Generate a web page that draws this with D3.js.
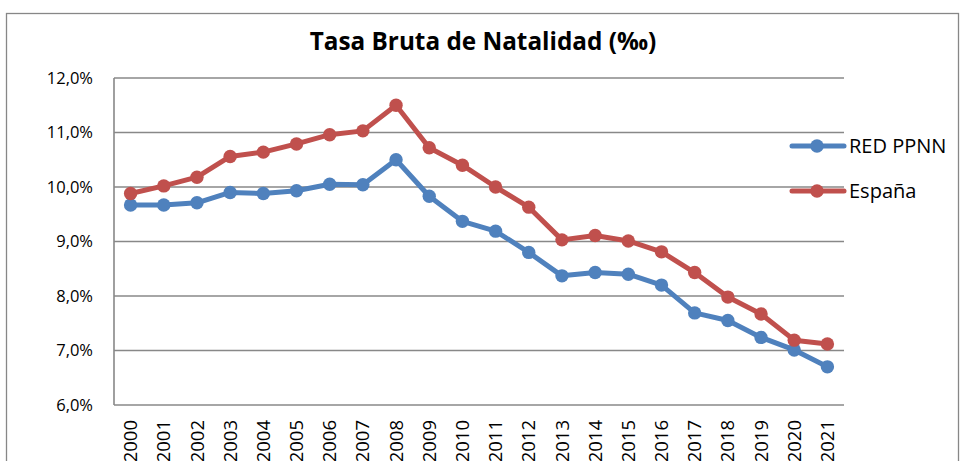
<!DOCTYPE html>
<html>
<head>
<meta charset="utf-8">
<title>Tasa Bruta de Natalidad</title>
<style>
  body { margin: 0; background: #fff; }
  svg { display: block; }
  text { font-family: "Open Sans", "Noto Sans", sans-serif; fill: #000; }
</style>
</head>
<body>
<div id="chart"></div>
<script src="https://cdn.jsdelivr.net/npm/d3@7"></script>
<script>
var years = ['2000','2001','2002','2003','2004','2005','2006','2007','2008','2009','2010',
             '2011','2012','2013','2014','2015','2016','2017','2018','2019','2020','2021'];
var redPPNN = [9.67, 9.67, 9.71, 9.90, 9.88, 9.93, 10.05, 10.04, 10.50, 9.83, 9.37,
               9.19, 8.80, 8.37, 8.43, 8.40, 8.20, 7.69, 7.55, 7.24, 7.01, 6.70];
var espana = [9.88, 10.02, 10.18, 10.56, 10.64, 10.79, 10.96, 11.03, 11.50, 10.72, 10.40,
              10.00, 9.63, 9.03, 9.11, 9.01, 8.81, 8.43, 7.98, 7.67, 7.19, 7.12];
var yTicks = [6, 7, 8, 9, 10, 11, 12];
var seriesNames = ['RED PPNN', 'España'];
var colors = ['#4F81BD', '#C0504D'];

var W = 960, H = 461;
var plot = {left: 114, top: 78, right: 844, bottom: 405};

var svg = d3.select('#chart').append('svg')
    .attr('width', W)
    .attr('height', H);

// outer chart border
svg.append('rect')
    .attr('x', 6.5).attr('y', 13.5)
    .attr('width', 952).attr('height', 470)
    .attr('fill', 'none')
    .attr('stroke', '#878787')
    .attr('stroke-width', 1.3);

var x = d3.scaleBand()
    .domain(years)
    .range([plot.left, plot.right]);

var y = d3.scaleLinear()
    .domain([6, 12])
    .range([plot.bottom, plot.top]);

// title
svg.append('text')
    .attr('x', 483).attr('y', 50)
    .attr('text-anchor', 'middle')
    .style('font-size', '24.3px')
    .style('font-weight', 'bold')
    .text('Tasa Bruta de Natalidad (‰)');

// gridlines
svg.append('g').selectAll('line')
  .data(yTicks)
  .join('line')
    .attr('x1', plot.left).attr('x2', plot.right)
    .attr('y1', d => y(d)).attr('y2', d => y(d))
    .attr('stroke', '#888')
    .attr('stroke-width', 1.6);

// left axis line
svg.append('line')
    .attr('x1', plot.left).attr('x2', plot.left)
    .attr('y1', plot.top).attr('y2', plot.bottom)
    .attr('stroke', '#888')
    .attr('stroke-width', 1.6);

// y labels
svg.append('g').selectAll('text')
  .data(yTicks)
  .join('text')
    .attr('x', 93)
    .attr('y', d => y(d))
    .attr('dy', '0.35em')
    .attr('text-anchor', 'end')
    .style('font-size', '16.5px')
    .text(d => d3.format('.1f')(d).replace('.', ',') + '%');

// x labels, rotated
svg.append('g').selectAll('text')
  .data(years)
  .join('text')
    .attr('transform', d => 'translate(' + (x(d) + x.bandwidth() / 2 + 6.6) + ',' + 420 + ') rotate(-90)')
    .attr('text-anchor', 'end')
    .style('font-size', '18.5px')
    .text(d => d);

var line = d3.line()
    .x((d, i) => x(years[i]) + x.bandwidth() / 2)
    .y(d => y(d));

[redPPNN, espana].forEach(function(series, k) {
  var g = svg.append('g');
  g.append('path')
      .attr('d', line(series))
      .attr('fill', 'none')
      .attr('stroke', colors[k])
      .attr('stroke-width', 5)
      .attr('stroke-linejoin', 'round');
  g.selectAll('circle')
    .data(series)
    .join('circle')
      .attr('cx', (d, i) => x(years[i]) + x.bandwidth() / 2)
      .attr('cy', d => y(d))
      .attr('r', 6.7)
      .attr('fill', colors[k]);
});

// legend
var legendY = [146, 191];
seriesNames.forEach(function(name, k) {
  var g = svg.append('g');
  g.append('line')
      .attr('x1', 792).attr('x2', 844)
      .attr('y1', legendY[k]).attr('y2', legendY[k])
      .attr('stroke', colors[k])
      .attr('stroke-width', 5)
      .attr('stroke-linecap', 'round');
  g.append('circle')
      .attr('cx', 817).attr('cy', legendY[k])
      .attr('r', 6.7)
      .attr('fill', colors[k]);
  g.append('text')
      .attr('x', 849).attr('y', legendY[k])
      .attr('dy', '0.35em')
      .style('font-size', '20px')
      .text(name);
});
</script>
</body>
</html>
